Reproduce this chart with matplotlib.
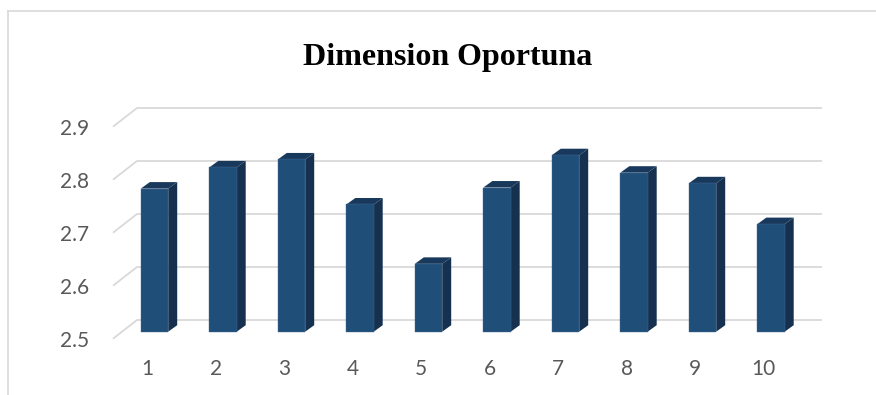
import matplotlib
matplotlib.use("Agg")
import matplotlib.pyplot as plt
from matplotlib.patches import Rectangle, Polygon
from matplotlib.lines import Line2D

categories = ["1", "2", "3", "4", "5", "6", "7", "8", "9", "10"]
values = [2.77, 2.81, 2.825, 2.74, 2.628, 2.772, 2.833, 2.80, 2.78, 2.703]
y_ticks = [2.5, 2.6, 2.7, 2.8, 2.9]
title = "Dimension Oportuna"

W, H = 876, 395
fig = plt.figure(figsize=(W / 100, H / 100), dpi=100)
fig.patch.set_facecolor("white")

# plot area (front plane) in pixels
L, R, T, B = 113, 798, 126.7, 338.7
ax = fig.add_axes([L / W, 1 - B / H, (R - L) / W, (B - T) / H])
ymin, ymax = y_ticks[0], y_ticks[-1]
n = len(categories)
ax.set_xlim(0.5, n + 0.5)
ax.set_ylim(ymin, ymax)
for s in ax.spines.values():
    s.set_visible(False)
ax.set_facecolor("none")

# pixel -> data conversion factors
XPX = (R - L) / n
YPX = (B - T) / (ymax - ymin)

# depth of the back wall
wall_dx, wall_dy = 24 / XPX, 18.7 / YPX
grid_color = "#d9d9d9"
for y in y_ticks:
    ax.add_line(Line2D([0.5, 0.5 + wall_dx, n + 0.5 + wall_dx],
                       [y, y + wall_dy, y + wall_dy],
                       color=grid_color, lw=1.3, zorder=1, clip_on=False,
                       solid_capstyle="butt"))

# 3D bars
bar_w = 0.4
shift_x, shift_y = 7.25 / XPX, 7 / YPX
dx, dy = 9 / XPX, 6.5 / YPX
front_c, side_c, top_c = "#1f4e79", "#16314f", "#18395c"
for i, v in enumerate(values, start=1):
    x0 = i - bar_w / 2 + shift_x
    x1 = x0 + bar_w
    y0 = ymin + shift_y
    yt = v + shift_y
    ax.add_patch(Polygon([(x1, y0), (x1, yt), (x1 + dx, yt + dy), (x1 + dx, y0 + dy)],
                         closed=True, facecolor=side_c, edgecolor="none",
                         zorder=3, clip_on=False))
    ax.add_patch(Polygon([(x0, yt), (x1, yt), (x1 + dx, yt + dy), (x0 + dx, yt + dy)],
                         closed=True, facecolor=top_c, edgecolor="none",
                         zorder=3, clip_on=False))
    ax.add_patch(Rectangle((x0, y0), bar_w, v - ymin, facecolor=front_c,
                           edgecolor="#4a6d92", lw=0.3, zorder=4, clip_on=False))

# axis labels
lab_color = "#595959"
ax.set_xticks(range(1, n + 1))
ax.set_xticklabels(categories)
ax.set_yticks(y_ticks)
ax.set_yticklabels([f"{t:.1f}" for t in y_ticks])
ax.tick_params(axis="both", length=0, colors=lab_color, labelsize=15)
ax.tick_params(axis="y", pad=17)
ax.tick_params(axis="x", pad=14.5)
for lab in ax.get_xticklabels() + ax.get_yticklabels():
    lab.set_fontfamily("Lato")

# title
fig.text(447.5 / W, 1 - 65 / H, title, ha="center", va="baseline",
         fontfamily="Liberation Serif", fontweight="bold", fontsize=23,
         color="black")

# chart frame
fig.add_artist(Line2D([7.5 / W, 7.5 / W], [1 - 10.5 / H, 0], color=grid_color,
                      lw=1.2, transform=fig.transFigure))
fig.add_artist(Line2D([7.5 / W, 1], [1 - 10.5 / H, 1 - 10.5 / H], color=grid_color,
                      lw=1.2, transform=fig.transFigure))

fig.savefig("out.png", dpi=100, facecolor="white")
